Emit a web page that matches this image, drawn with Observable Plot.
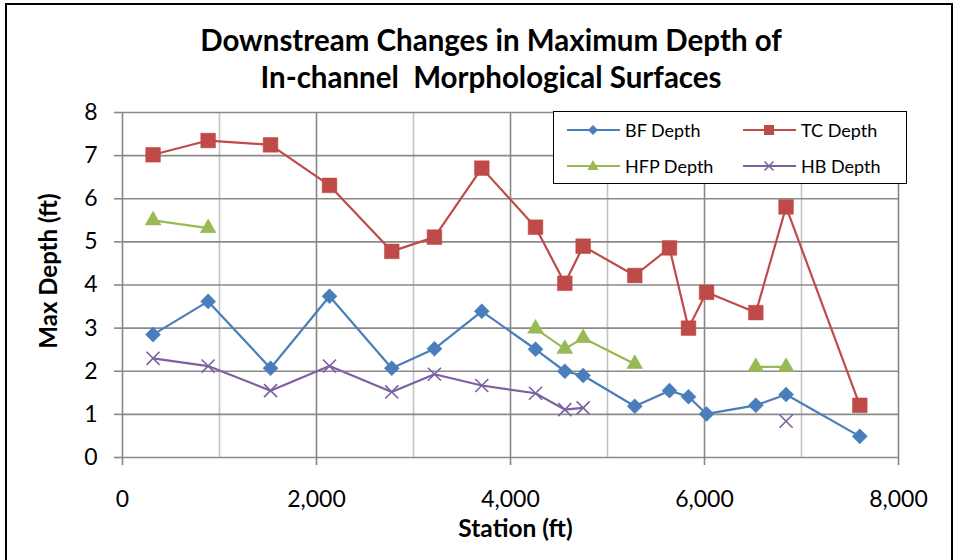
<!DOCTYPE html>
<html>
<head>
<meta charset="utf-8">
<script src="https://cdn.jsdelivr.net/npm/d3@7"></script>
<script src="https://cdn.jsdelivr.net/npm/@observablehq/plot@0.6"></script>
<style>
  html, body { margin: 0; padding: 0; background: #fff; }
  #wrap { position: relative; width: 962px; height: 560px; overflow: hidden; font-family: Lato, "Open Sans", sans-serif; }
  #border { position: absolute; left: 5px; top: 3px; width: 948px; height: 600px; border: 2px solid #000; box-sizing: border-box; }
  #title { position: absolute; left: 10px; top: 0; width: 962px; height: 95px; text-align: center; font-weight: bold; font-size: 29.5px; line-height: 37px; padding-top: 21px; box-sizing: border-box; white-space: pre; color: #000; }
  #chart { position: absolute; left: 0; top: 95px; }
  #legend { position: absolute; left: 553px; top: 111px; width: 354px; height: 73px; border: 1.5px solid #000; background: #fff; box-sizing: border-box; }
  .item { position: absolute; display: flex; align-items: center; font-size: 18px; color: #000; }
  .item svg { margin-right: 5px; }
</style>
</head>
<body>
<div id="wrap">
  <div id="border"></div>
  <div id="title"></div>
  <div id="chart"></div>
  <div id="legend"></div>
</div>
<script>
const titleLines = ["Downstream Changes in Maximum Depth of", "In-channel  Morphological Surfaces"];
const xLabel = "Station (ft)";
const yLabel = "Max Depth (ft)";
const seriesNames = ["BF Depth", "TC Depth", "HFP Depth", "HB Depth"];
const seriesColors = ["#4A7EBB", "#BE4B48", "#98B954", "#7D60A0"];
const seriesSymbols = ["diamond2", "square", "triangle", "times"];
const xTicks = [0, 2000, 4000, 6000, 8000];
const xGrid = [0, 1000, 2000, 3000, 4000, 5000, 6000, 7000, 8000];
const yTicks = [0, 1, 2, 3, 4, 5, 6, 7, 8];

const stations = [315, 883, 1526, 2134, 2776, 3216, 3704, 4258, 4560, 4749, 5281, 5639, 5835, 6021, 6529, 6841, 7601];
const bfDepth  = [2.85, 3.62, 2.07, 3.74, 2.07, 2.52, 3.39, 2.51, 2.00, 1.90, 1.19, 1.55, 1.41, 1.01, 1.21, 1.46, 0.49];
const tcDepth  = [7.02, 7.35, 7.25, 6.31, 4.78, 5.11, 6.71, 5.34, 4.04, 4.90, 4.22, 4.86, 3.00, 3.83, 3.36, 5.81, 1.21];
const hfpDepth = [5.50, 5.32, null, null, null, null, null, 2.99, 2.52, 2.77, 2.17, null, null, null, 2.10, 2.10, null];
const hbDepth  = [2.30, 2.12, 1.55, 2.12, 1.52, 1.93, 1.67, 1.49, 1.11, 1.15, null, null, null, null, null, 0.84, null];

const allSeries = [bfDepth, tcDepth, hfpDepth, hbDepth];

document.getElementById("title").textContent = titleLines.join("\n");

const marks = [];
// grid
marks.push(Plot.ruleX(xGrid, {stroke: d => (d % 2000 === 0 ? "#878787" : "#C4C4C4"), strokeWidth: 1.6}));
marks.push(Plot.ruleY(yTicks, {stroke: "#8A8A8A", strokeWidth: 1.6}));
// axes
marks.push(Plot.axisX(xTicks, {tickFormat: d3.format(","), tickSize: 8, tickPadding: 25, fontSize: 23, stroke: "#878787", strokeWidth: 1.6, fill: "#000", label: null}));
marks.push(Plot.axisY(yTicks, {tickSize: 8, tickPadding: 17, fontSize: 23, stroke: "#878787", strokeWidth: 1.6, fill: "#000", label: null}));

allSeries.forEach((vals, i) => {
  const rows = stations.map((s, j) => ({station: s, depth: vals[j]}));
  marks.push(Plot.line(rows, {x: "station", y: "depth", stroke: seriesColors[i], strokeWidth: 2.2}));
});
const dotR = [6.8, 8.3, 5.9, 6];
allSeries.forEach((vals, i) => {
  const rows = stations.map((s, j) => ({station: s, depth: vals[j]})).filter(d => d.depth != null);
  const isTimes = seriesSymbols[i] === "times";
  marks.push(Plot.dot(rows, {
    x: "station", y: "depth", symbol: () => seriesSymbols[i], r: dotR[i],
    fill: isTimes ? "none" : seriesColors[i],
    stroke: seriesColors[i], strokeWidth: isTimes ? 1.6 : 0.5
  }));
});

marks.push(Plot.text([xLabel], {frameAnchor: "bottom", textAnchor: "middle", lineAnchor: "middle", dy: 72, dx: 5, fontWeight: "bold", fontSize: 24.5, fill: "#000"}));
marks.push(Plot.text([yLabel], {frameAnchor: "left", textAnchor: "middle", lineAnchor: "middle", rotate: -90, dx: -73, dy: -14, fontWeight: "bold", fontSize: 24, fill: "#000"}));

const chart = Plot.plot({
  width: 962,
  height: 465,
  marginTop: 17,
  marginLeft: 122,
  marginRight: 64,
  marginBottom: 103,
  x: {domain: [0, 8000]},
  y: {domain: [0, 8]},
  style: {fontFamily: "Lato, 'Open Sans', sans-serif", background: "transparent", color: "#000", overflow: "visible"},
  marks
});
document.getElementById("chart").appendChild(chart);

// legend
const legend = document.getElementById("legend");
const pos = [[13, 18], [189, 18], [13, 54], [189, 54]];
const legendSymbols = {
  diamond2: c => `<path d="M26,-5 L31,0 L26,5 L21,0 Z" fill="${c}"/>`,
  square: c => `<rect x="21" y="-5" width="10" height="10" fill="${c}"/>`,
  triangle: c => `<path d="M26,-6 L31.5,4 L20.5,4 Z" fill="${c}"/>`,
  times: c => `<path d="M21.5,-4.5 L30.5,4.5 M21.5,4.5 L30.5,-4.5" stroke="${c}" stroke-width="1.6" fill="none"/>`
};
seriesNames.forEach((name, i) => {
  const div = document.createElement("div");
  div.className = "item";
  div.style.left = pos[i][0] + "px";
  div.style.top = (pos[i][1] - 12) + "px";
  div.innerHTML = `<svg width="53" height="24" viewBox="0 -12 53 24"><line x1="0" x2="53" y1="0" y2="0" stroke="${seriesColors[i]}" stroke-width="2.2"/>${legendSymbols[seriesSymbols[i]](seriesColors[i])}</svg><span>${name}</span>`;
  legend.appendChild(div);
});
</script>
</body>
</html>
